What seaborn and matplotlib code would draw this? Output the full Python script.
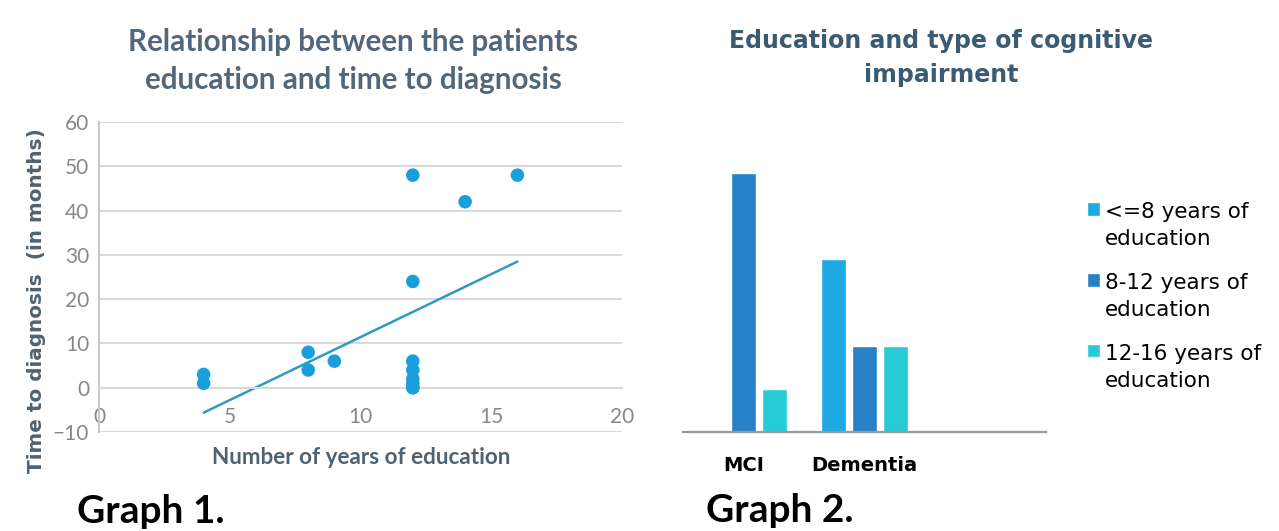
import numpy as np
import pandas as pd
import matplotlib
matplotlib.use("Agg")
import matplotlib.pyplot as plt
import seaborn as sns

# ---------------- data ----------------
years_edu = [4, 4, 8, 8, 9, 12, 12, 12, 12, 12, 12, 12, 12, 14, 16]
months_dx = [3, 1, 8, 4, 6, 48, 24, 6, 4, 2, 1, 0, 0, 42, 48]

categories = ["MCI", "Dementia"]
groups = ["<=8 years of\neducation", "8-12 years of\neducation", "12-16 years of\neducation"]
counts_le8 = [0, 4]
counts_8_12 = [6, 2]
counts_12_16 = [1, 2]

x_ticks = [0, 5, 10, 15, 20]
y_ticks = [-10, 0, 10, 20, 30, 40, 50, 60]

# ---------------- styling ----------------
sns.set_theme(style="white")
plt.rcParams["font.family"] = ["DejaVu Sans"]

W, H = 1279, 531
fig = plt.figure(figsize=(W / 100, H / 100), dpi=100)

def fx(px):
    return px / W

def fy(py):
    return 1 - py / H

# ---------------- Graph 1: scatter ----------------
ax1 = fig.add_axes([fx(99), fy(432), fx(622) - fx(99), fy(122) - fy(432)])
scat_df = pd.DataFrame({"years": years_edu, "months": months_dx})
sns.regplot(data=scat_df, x="years", y="months", ax=ax1, ci=None, truncate=True,
            scatter_kws=dict(s=95, color="#1A9FDD", edgecolor="none", alpha=1, zorder=3),
            line_kws=dict(color="#2F9BC0", lw=1.8, zorder=2))
ax1.set_xlim(0, 20)
ax1.set_ylim(-10, 60)
ax1.set_xticks(x_ticks)
ax1.set_yticks(y_ticks)
ax1.yaxis.grid(True, color="#D9D9D9", lw=1.5)
ax1.xaxis.grid(False)
for s in ["top", "right"]:
    ax1.spines[s].set_visible(False)
ax1.spines["bottom"].set_position(("data", 0))
ax1.spines["bottom"].set_color("#D9D9D9")
ax1.spines["bottom"].set_linewidth(1.5)
ax1.spines["left"].set_color("#C8C8C8")
ax1.spines["left"].set_linewidth(1.5)
ax1.tick_params(axis="x", length=3, color="#D9D9D9", direction="in", pad=14,
                labelsize=15, labelcolor="#888888")
ax1.tick_params(axis="y", length=4, color="#D9D9D9", direction="out", pad=3,
                labelsize=15, labelcolor="#888888")
for lbl in ax1.get_xticklabels() + ax1.get_yticklabels():
    lbl.set_family("Lato")
ax1.set_xlabel("")
ax1.set_ylabel("")
fig.text(fx(361), fy(457), "Number of years of education", ha="center", va="center",
         fontsize=16.2, fontweight="bold", color="#4F6272", family="Lato")
fig.text(fx(37), fy(301), "Time to diagnosis  (in months)", ha="center", va="center",
         rotation=90, fontsize=14.4, fontweight="bold", color="#4F6272")
fig.text(fx(353), fy(61), "Relationship between the patients\neducation and time to diagnosis",
         ha="center", va="center", fontsize=21.3, fontweight="bold", color="#52677A",
         family="Lato", linespacing=1.4)
fig.text(fx(77), fy(494), "Graph 1.", ha="left", va="top", fontsize=28,
         fontweight="bold", color="black", family="Lato")

# ---------------- Graph 2: grouped bars ----------------
bar_df = pd.DataFrame({
    "category": categories * 3,
    "group": [groups[0]] * 2 + [groups[1]] * 2 + [groups[2]] * 2,
    "count": counts_le8 + counts_8_12 + counts_12_16,
})
ax2 = fig.add_axes([fx(683), fy(432), fx(1046) - fx(683), fy(150) - fy(432)])
palette = {groups[0]: "#1DA9E1", groups[1]: "#2781C6", groups[2]: "#27CBD6"}
sns.barplot(data=bar_df, x="category", y="count", hue="group", order=categories,
            hue_order=groups, palette=palette, width=0.77, gap=0.2, ax=ax2,
            saturation=1, legend=True)
ax2.set_xlim(-0.5, 2.5)
ax2.set_ylim(0, 6.53)
ax2.set_yticks([])
ax2.set_xlabel("")
ax2.set_ylabel("")
for s in ["top", "right", "left"]:
    ax2.spines[s].set_visible(False)
ax2.spines["bottom"].set_color("#999999")
ax2.spines["bottom"].set_linewidth(1.6)
ax2.tick_params(axis="x", length=0, pad=17, labelsize=14)
for lbl in ax2.get_xticklabels():
    lbl.set_fontweight("bold")
    lbl.set_color("black")
handles, labels = ax2.get_legend_handles_labels()
ax2.legend_.remove()
leg = fig.legend(handles, labels, loc="upper left", bbox_to_anchor=(fx(1087), fy(202)),
                 frameon=False, fontsize=15.5, handlelength=0.6, handleheight=0.6,
                 handletextpad=0.25, labelspacing=1.1, borderaxespad=0, borderpad=0)
for t in leg.get_texts():
    t.set_linespacing(1.45)
    t.set_color("black")
for col in leg._legend_handle_box.get_children():
    for row in col.get_children():
        row.align = "top"
fig.text(fx(941), fy(58), "Education and type of cognitive\nimpairment", ha="center",
         va="center", fontsize=17, fontweight="bold", color="#3B5B73", linespacing=1.55)
fig.text(fx(706), fy(493), "Graph 2.", ha="left", va="top", fontsize=28,
         fontweight="bold", color="black", family="Lato")

fig.savefig("out.png", dpi=100)
